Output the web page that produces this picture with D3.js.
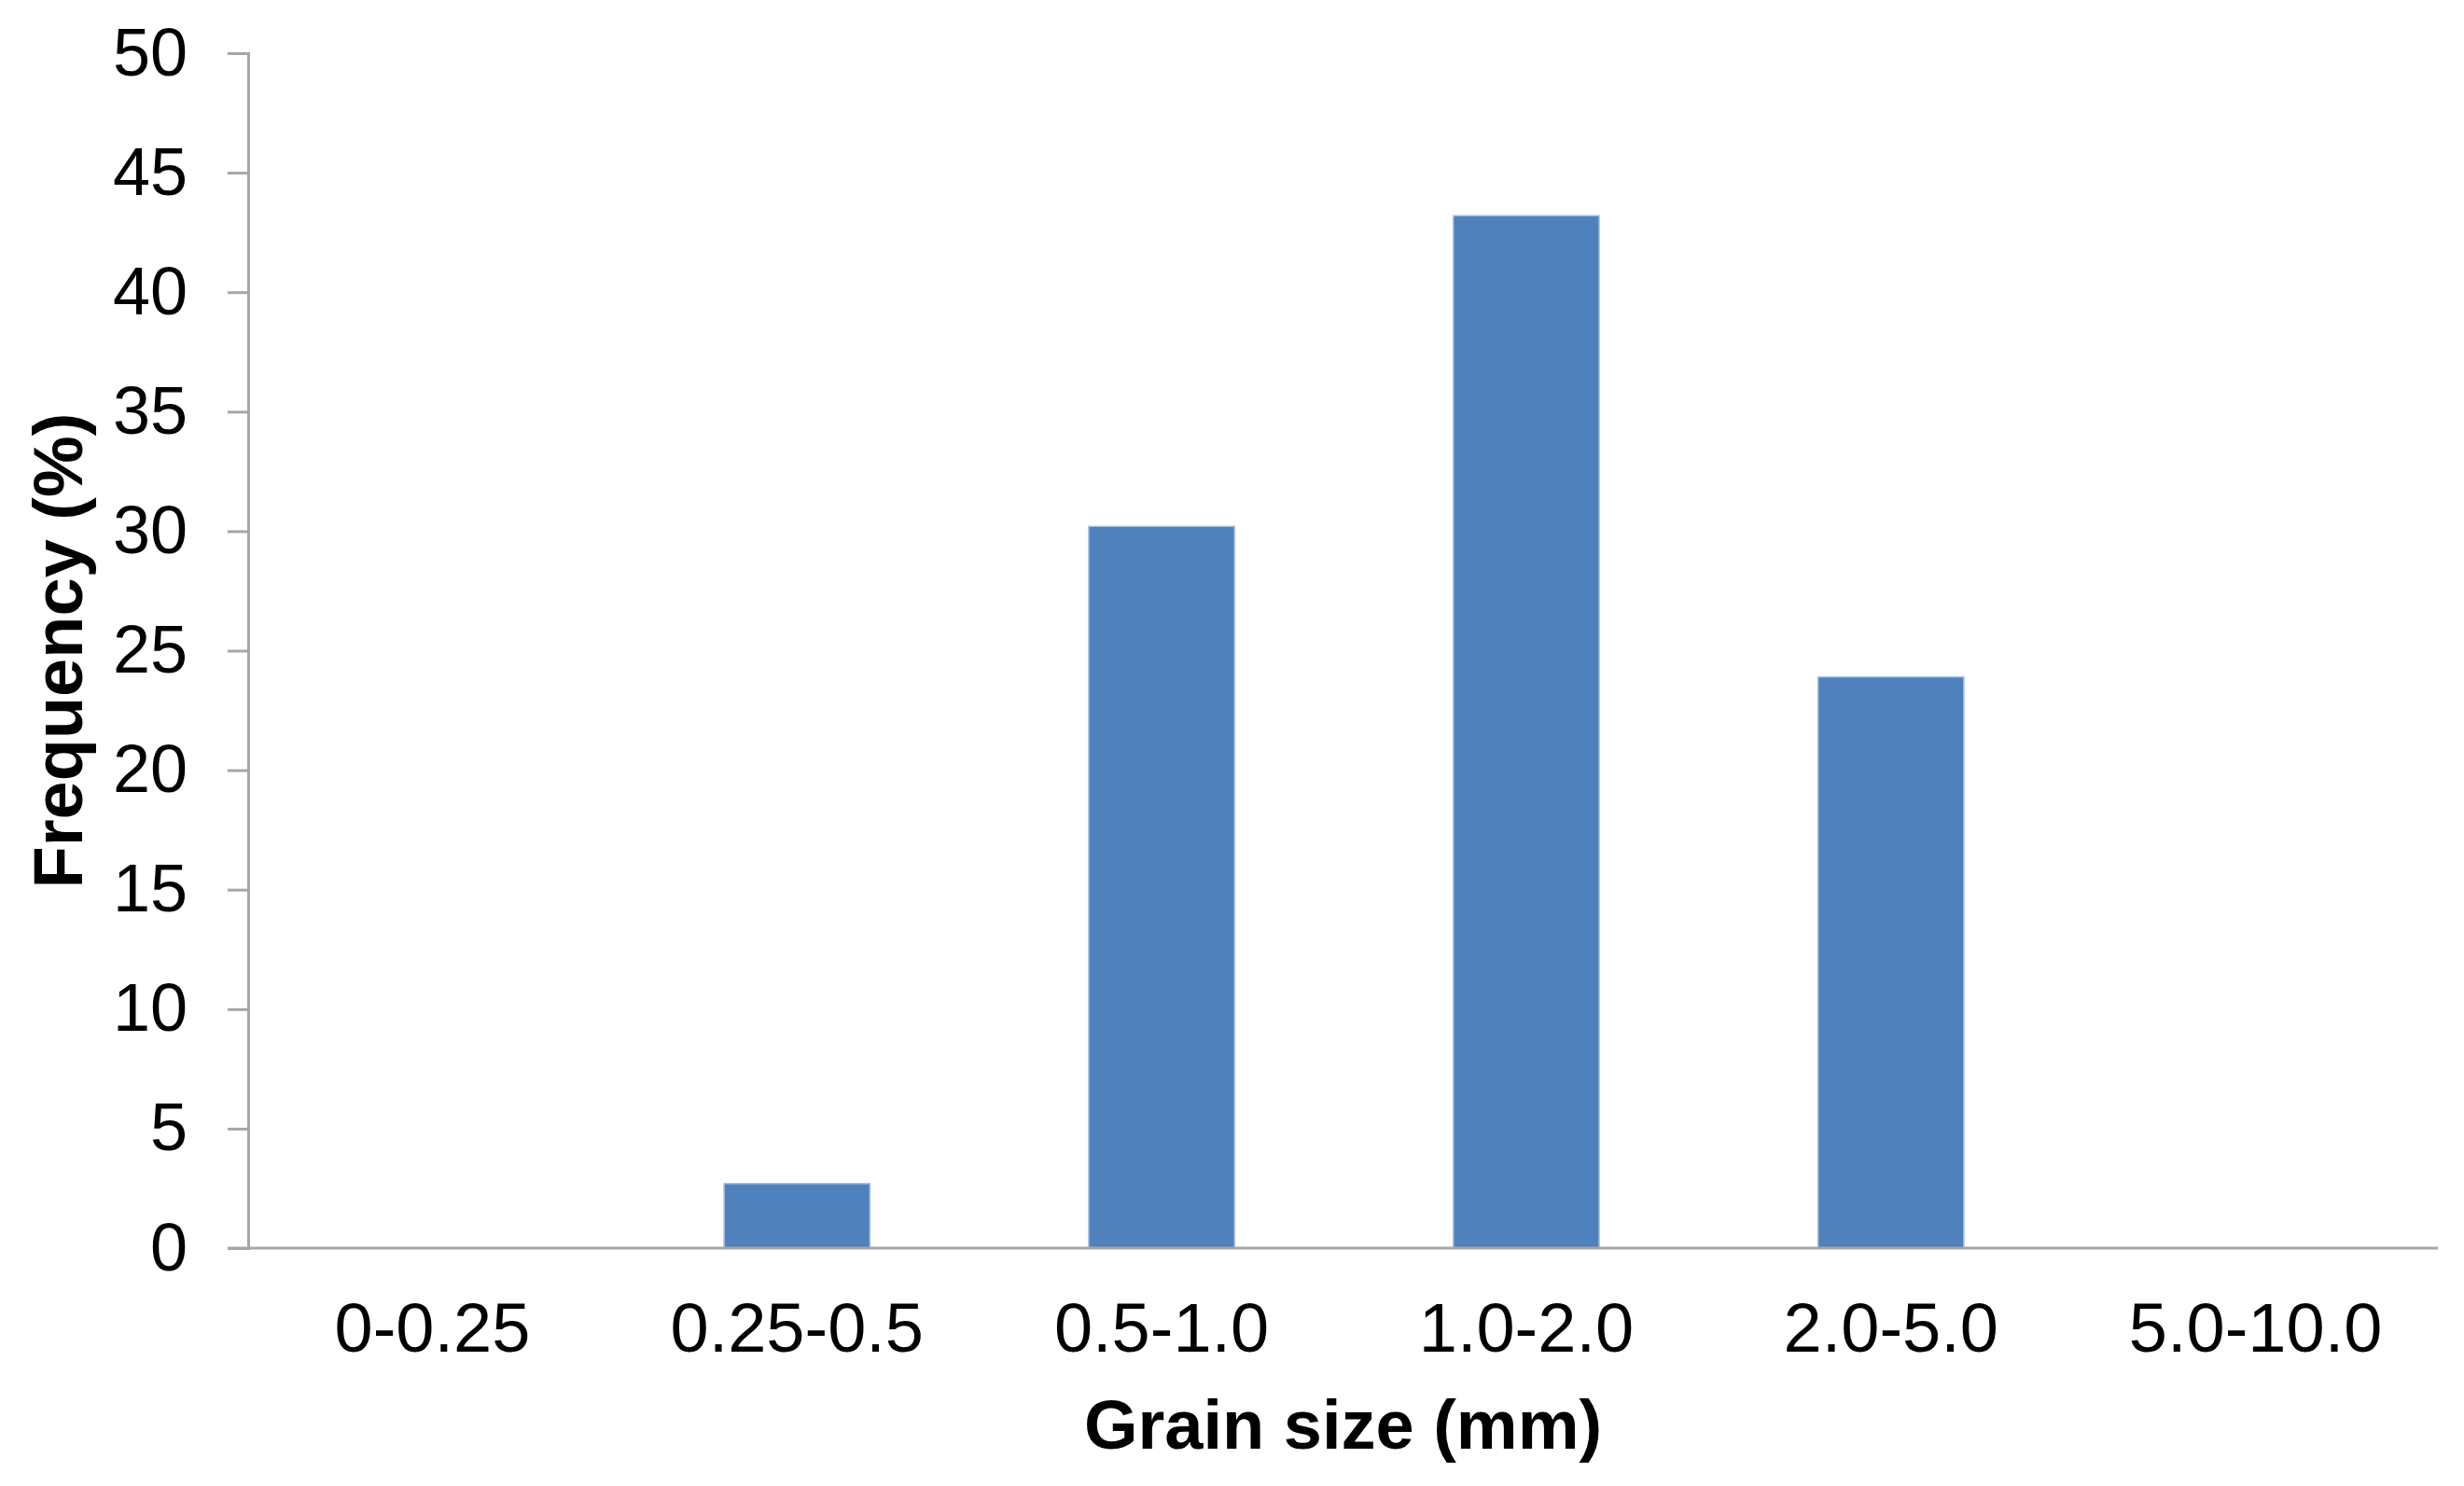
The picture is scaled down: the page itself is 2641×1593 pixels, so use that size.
<!DOCTYPE html>
<html>
<head>
<meta charset="UTF-8" />
<title>Grain size frequency</title>
<script src="https://d3js.org/d3.v7.min.js"></script>
<style>
  body { margin: 0; background: #fff; }
  text { font-family: "Liberation Sans", Arial, sans-serif; fill: #000; }
</style>
</head>
<body>
<div id="chart"></div>
<script>
// data
var categories = ["0-0.25", "0.25-0.5", "0.5-1.0", "1.0-2.0", "2.0-5.0", "5.0-10.0"];
var frequency = [0, 2.7, 30.2, 43.2, 23.9, 0];
var yTicks = [0, 5, 10, 15, 20, 25, 30, 35, 40, 45, 50];

var W = 2641, H = 1593;
var margin = {top: 57, right: 28, bottom: 255, left: 266};
var width = W - margin.left - margin.right,
    height = H - margin.top - margin.bottom;

var svg = d3.select("#chart").append("svg")
    .attr("width", W)
    .attr("height", H)
  .append("g")
    .attr("transform", "translate(" + margin.left + "," + margin.top + ")");

var x = d3.scaleBand()
    .domain(categories)
    .range([2, width])
    .paddingInner(0.6)
    .paddingOuter(0.3);

var y = d3.scaleLinear()
    .domain([0, 50])
    .range([height, 0]);

// bars
svg.selectAll("rect.bar")
  .data(categories.map(function(c, i) { return [c, frequency[i]]; }))
  .enter().append("rect")
    .attr("class", "bar")
    .attr("x", function(d) { return x(d[0]); })
    .attr("y", function(d) { return y(d[1]); })
    .attr("width", x.bandwidth())
    .attr("height", function(d) { return height - y(d[1]); })
    .attr("fill", "#4f81bd")
    .attr("stroke", "#a9c0de")
    .attr("stroke-width", 1.5);

// y axis
var yAxis = svg.append("g")
    .call(d3.axisLeft(y).tickValues(yTicks).tickSize(22).tickPadding(43).tickSizeOuter(22));
yAxis.select(".domain").attr("stroke", "#a6a6a6").attr("stroke-width", 3);
yAxis.selectAll(".tick line").attr("stroke", "#a6a6a6").attr("stroke-width", 3);
yAxis.selectAll("text")
    .style("font-size", "72px")
    .attr("fill", "#000");

// x axis
var xAxis = svg.append("g")
    .attr("transform", "translate(0," + height + ")")
    .call(d3.axisBottom(x).tickSize(0).tickPadding(58));
xAxis.select(".domain").attr("stroke", "#a6a6a6").attr("stroke-width", 3)
    .attr("d", "M-22,0H" + width);
xAxis.selectAll("text")
    .style("font-size", "74px")
    .attr("fill", "#000");

// axis titles
svg.append("text")
    .attr("x", width / 2)
    .attr("y", height + 215)
    .attr("text-anchor", "middle")
    .style("font-size", "74px")
    .style("font-weight", "bold")
    .text("Grain size (mm)");

svg.append("text")
    .attr("transform", "rotate(-90)")
    .attr("x", -height / 2)
    .attr("y", -178)
    .attr("text-anchor", "middle")
    .style("font-size", "74px")
    .style("font-weight", "bold")
    .text("Frequency (%)");
</script>
</body>
</html>
